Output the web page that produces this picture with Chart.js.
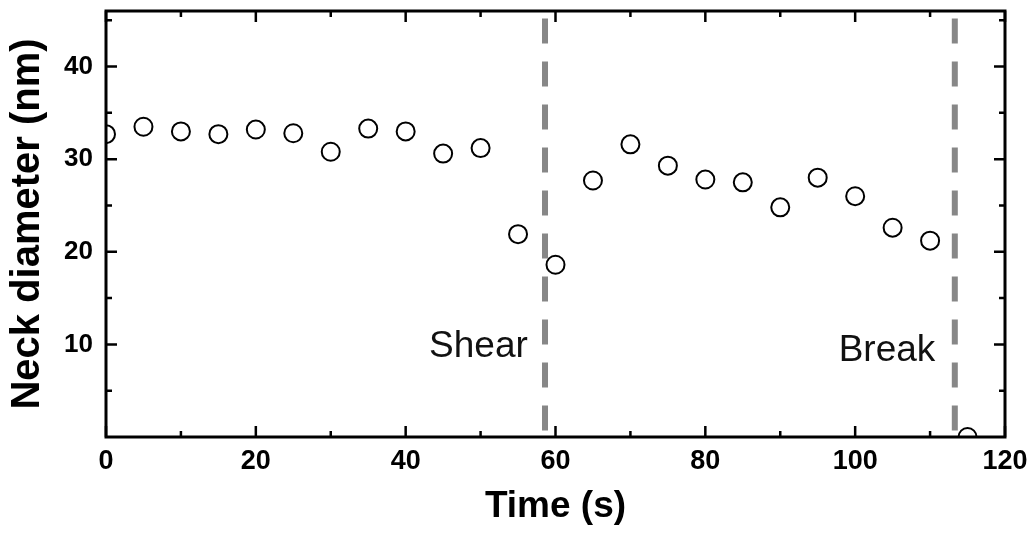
<!DOCTYPE html>
<html>
<head>
<meta charset="utf-8">
<script src="https://cdn.jsdelivr.net/npm/chart.js@4/dist/chart.umd.min.js"></script>
<style>
  html, body { margin: 0; padding: 0; background: #fff; }
  canvas { display: block; }
</style>
</head>
<body>
<canvas id="c" width="1036" height="537"></canvas>
<script>
// ---- Data ----
const times = [0, 5, 10, 15, 20, 25, 30, 35, 40, 45, 50, 55, 60, 65, 70, 75, 80, 85, 90, 95, 100, 105, 110, 115];
const neckDiameter = [32.7, 33.5, 33.0, 32.7, 33.2, 32.8, 30.8, 33.3, 33.0, 30.6, 31.2, 21.9, 18.6, 27.7, 31.6, 29.3, 27.8, 27.5, 24.8, 28.0, 26.0, 22.6, 21.2, 0];
const eventNames = ['Shear', 'Break'];
const eventTimes = [58.6, 113.3];
const eventLabelX = [56.3, 110.7];
const eventLabelY = [8.6, 8.25];
const xMajorTicks = [0, 20, 40, 60, 80, 100, 120];
const xMinorTicks = [10, 30, 50, 70, 90, 110];
const yMajorTicks = [10, 20, 30, 40];
const yMinorTicks = [5, 15, 25, 35, 45];
const xRange = [0, 120];
const yRange = [0, 46];

const FONT = "'Liberation Sans', Arial, Helvetica, sans-serif";

const points = times.map((t, i) => ({ x: t, y: neckDiameter[i] }));

const eventDatasets = eventTimes.map((t, i) => ({
  label: eventNames[i],
  type: 'line',
  data: [{ x: t, y: yRange[1] }, { x: t, y: yRange[0] }],
  borderColor: '#878787',
  borderWidth: 6,
  borderDash: [25, 18],
  borderDashOffset: 35.6,
  pointRadius: 0,
  showLine: true,
  fill: false,
  clip: 0,
  order: 2
}));

const framePlugin = {
  id: 'frameTicks',
  afterDatasetsDraw(chart) {
    const { ctx, chartArea: a, scales: { x, y } } = chart;
    ctx.save();
    ctx.strokeStyle = '#000';
    ctx.lineCap = 'butt';
    ctx.lineWidth = 2.5;
    const MAJ = 11, MIN = 6;
    const xt = (v, len) => {
      const px = x.getPixelForValue(v);
      ctx.beginPath();
      ctx.moveTo(px, a.bottom); ctx.lineTo(px, a.bottom - len);
      ctx.moveTo(px, a.top); ctx.lineTo(px, a.top + len);
      ctx.stroke();
    };
    const yt = (v, len) => {
      const py = y.getPixelForValue(v);
      ctx.beginPath();
      ctx.moveTo(a.left, py); ctx.lineTo(a.left + len, py);
      ctx.moveTo(a.right, py); ctx.lineTo(a.right - len, py);
      ctx.stroke();
    };
    xMajorTicks.forEach(v => xt(v, MAJ));
    xMinorTicks.forEach(v => xt(v, MIN));
    yMajorTicks.forEach(v => yt(v, MAJ));
    yMinorTicks.forEach(v => yt(v, MIN));
    ctx.lineWidth = 3;
    ctx.strokeRect(a.left, a.top, a.right - a.left, a.bottom - a.top);

    // event labels
    ctx.fillStyle = '#111';
    ctx.font = "37px " + FONT;
    ctx.textAlign = 'right';
    ctx.textBaseline = 'alphabetic';
    eventNames.forEach((n, i) => {
      ctx.fillText(n, x.getPixelForValue(eventLabelX[i]), y.getPixelForValue(eventLabelY[i]));
    });
    ctx.restore();
  }
};

new Chart(document.getElementById('c'), {
  type: 'scatter',
  data: {
    datasets: [
      {
        label: 'Neck diameter',
        data: points,
        pointStyle: 'circle',
        pointRadius: 9,
        pointHoverRadius: 9,
        pointBorderWidth: 2,
        borderColor: '#000',
        backgroundColor: '#fff',
        showLine: false,
        clip: 0,
        order: 1
      },
      ...eventDatasets
    ]
  },
  options: {
    responsive: false,
    animation: false,
    devicePixelRatio: 1,
    layout: { padding: { top: 8, right: 31, left: 0, bottom: 0 } },
    plugins: {
      legend: { display: false },
      tooltip: { enabled: false },
      title: { display: false }
    },
    scales: {
      x: {
        type: 'linear',
        position: 'bottom',
        min: xRange[0],
        max: xRange[1],
        grid: { display: false, drawTicks: false },
        border: { display: false },
        ticks: {
          stepSize: 20,
          padding: 8,
          color: '#000',
          font: { family: FONT, size: 27, weight: 'bold' },
          maxRotation: 0
        },
        title: {
          display: true,
          text: 'Time (s)',
          color: '#000',
          font: { family: FONT, size: 37, weight: 'bold' },
          padding: { top: 0, bottom: 8 }
        },
        afterFit(scale) { scale.height = 100; scale.paddingLeft = 0; scale.paddingRight = 0; }
      },
      y: {
        type: 'linear',
        min: yRange[0],
        max: yRange[1],
        grid: { display: false, drawTicks: false },
        border: { display: false },
        ticks: {
          stepSize: 10,
          includeBounds: false,
          padding: 13,
          color: '#000',
          font: { family: FONT, size: 26, weight: 'bold' },
          callback: (v) => (v === 0 ? '' : v)
        },
        title: {
          display: true,
          text: 'Neck diameter (nm)',
          color: '#000',
          font: { family: FONT, size: 40, weight: 'bold' },
          padding: { top: 4, bottom: 0 }
        },
        afterFit(scale) { scale.width = 106; scale.paddingTop = 0; scale.paddingBottom = 0; }
      }
    }
  },
  plugins: [framePlugin]
});
</script>
</body>
</html>
